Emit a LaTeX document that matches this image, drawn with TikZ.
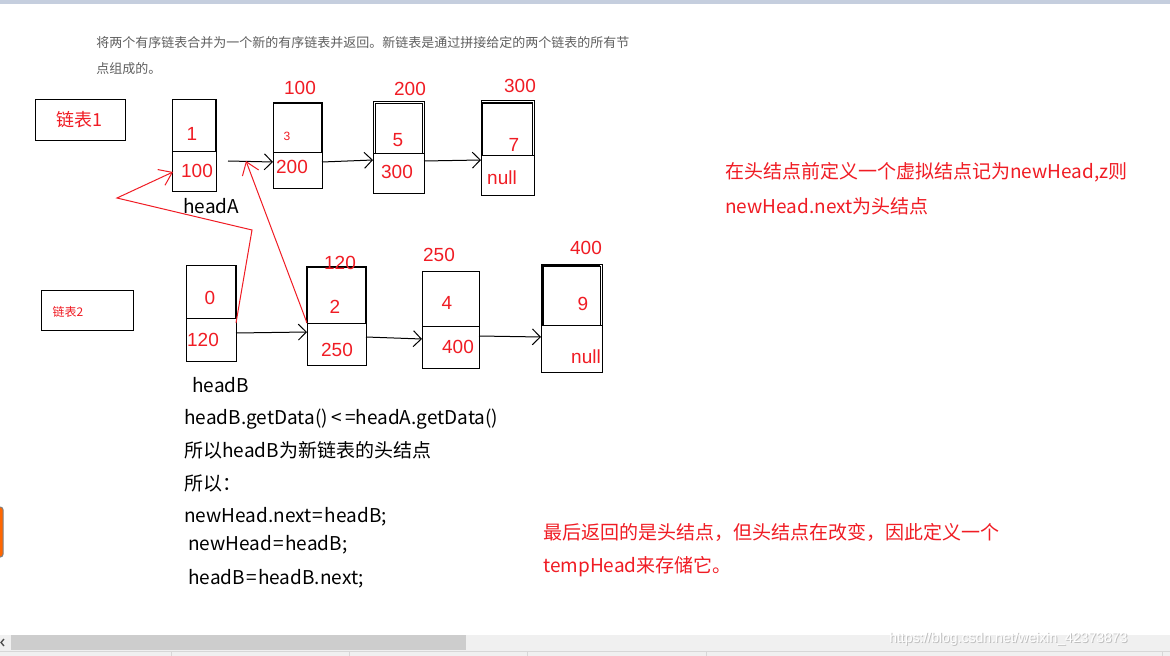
\documentclass[tikz,border=0pt]{standalone}
\usepackage{fontspec}
\setmainfont{Noto Sans CJK SC}
\newfontfamily\numfont{Liberation Sans}
\usetikzlibrary{arrows.meta,calc}
\definecolor{txtred}{RGB}{240,28,36}
\definecolor{linered}{RGB}{240,28,36}
\definecolor{descgray}{RGB}{95,95,95}
\definecolor{topbar}{RGB}{197,206,222}
\definecolor{sbbg}{RGB}{240,240,240}
\definecolor{sbthumb}{RGB}{205,205,205}
\definecolor{sbline}{RGB}{215,215,215}
\newcommand\cellnode[5]{\node[cellbox, minimum width=#4*0.75pt, minimum height=#5*0.75pt] (#1) at ({#2+#4/2},{#3+#5/2}) {};}
\tikzset{
 cellbox/.style={draw=black, line width=0.75pt, inner sep=0pt, outer sep=0pt},
 thickedge/.style={draw=black, line width=1.6pt},
 arr/.style={draw=black, line width=0.75pt, -{Straight Barb[length=6pt,width=12pt]}},
 redarr/.style={draw=linered, line width=0.75pt, -{Straight Barb[length=9pt,width=13pt]}},
 redline/.style={draw=linered, line width=0.75pt},
 num/.style={text=txtred, font=\numfont\fontsize{14.25}{16}\selectfont, inner sep=0pt},
 smallnum/.style={text=txtred, font=\numfont\fontsize{9}{10}\selectfont, inner sep=0pt},
 blk/.style={text=black, font=\fontsize{14.25}{16}\selectfont, inner sep=0pt, anchor=base west},
 rtxt/.style={text=txtred, font=\fontsize{14.25}{16}\selectfont, inner sep=0pt, anchor=base west},
 desc/.style={text=descgray, font=\fontsize{9.75}{11}\selectfont, inner sep=0pt, anchor=base west},
}
\begin{document}
\begin{tikzpicture}[x=0.75pt,y=-0.75pt]
\useasboundingbox[fill=white] (0,0) rectangle (1170,656);
% top bar
\fill[topbar] (0,0) rectangle (1170,4);
% description
\node[desc] (d1) at (96,48) {将两个有序链表合并为一个新的有序链表并返回。新链表是通过拼接给定的两个链表的所有节};
\node[desc] (d2) at (96,74) {点组成的。};
% list name boxes
\cellnode{list1}{35}{100}{90}{41}
\node[text=txtred, font=\fontsize{13.5}{15}\selectfont, inner sep=0pt] (list1t) at (79,120) {链表1};
\cellnode{list2}{41}{290}{92}{40}
\node[text=txtred, font=\fontsize{9}{10}\selectfont, inner sep=0pt] (list2t) at (68,312) {链表2};
% list A nodes
\cellnode{a1t}{172}{100}{44}{52}
\cellnode{a1b}{172}{152}{44}{39}
\draw[thickedge] (a1t.north east) -- (a1t.south east);
\cellnode{a2t}{273}{103}{49}{50}
\cellnode{a2b}{273}{153}{49}{35}
\draw[thickedge] (a2t.north west) -- (a2t.north east) -- (a2t.south east);
\cellnode{a3t}{373}{102}{51}{52}
\cellnode{a3b}{373}{154}{51}{39}
\cellnode{a3i}{375}{104}{47}{50}
\cellnode{a4t}{481}{101}{53}{55}
\cellnode{a4b}{481}{156}{53}{39}
\cellnode{a4i}{482}{103}{50}{53}
\draw[thickedge] (a4i.south west) -- (a4i.north west) -- (a4i.north east);
% list B nodes
\cellnode{b1t}{186}{265}{50}{53}
\cellnode{b1b}{186}{318}{50}{43}
\draw[thickedge] (b1t.north east) -- (b1t.south east);
\cellnode{b2t}{307}{267}{59}{56}
\cellnode{b2b}{307}{323}{59}{42}
\draw[thickedge] (b2t.south west) -- (b2t.north west) -- (b2t.north east) -- (b2t.south east);
\cellnode{b3t}{422}{271}{57}{55}
\cellnode{b3b}{422}{326}{57}{42}
\cellnode{b4t}{541}{264}{61}{61}
\cellnode{b4b}{541}{325}{61}{47}
\cellnode{b4i}{543}{266}{57}{59}
\draw[thickedge] (b4i.south west) -- (b4i.north west) -- (b4i.north east);
% numbers A
\node[num] (n1) at (192,134) {1};
\node[num] (n100a) at (197,171) {100};
\node[num] (l100) at (300,88) {100};
\node[smallnum] (n3) at (287,136) {3};
\node[num] (n200a) at (292,167) {200};
\node[num] (l200) at (410,89) {200};
\node[num] (n5) at (398,140) {5};
\node[num] (n300a) at (397,172) {300};
\node[num] (l300) at (520,86) {300};
\node[num] (n7) at (514,145) {7};
\node[num] (nnullA) at (502,178) {null};
\node[blk] (headA) at (183,213) {headA};
% numbers B
\node[num] (n0) at (210,298) {0};
\node[num] (n120b) at (203,340) {120};
\node[num] (l120) at (340,263) {120};
\node[num] (n2) at (335,307) {2};
\node[num] (n250b) at (337,350) {250};
\node[num] (l250) at (439,255) {250};
\node[num] (n4) at (447,303) {4};
\node[num] (n400b) at (458,347) {400};
\node[num] (l400) at (586,248) {400};
\node[num] (n9) at (583,304) {9};
\node[num] (nnullB) at (586,357) {null};
% black arrows
\draw[arr] ($(a1b.north east)+(12,9)$) -- ($(a2b.north west)+(0,9)$);
\draw[arr] ($(a2b.north east)+(0,9)$) -- ($(a3b.north west)+(0,6)$);
\draw[arr] ($(a3b.north east)+(0,7)$) -- ($(a4b.north west)+(0,4)$);
\draw[arr] ($(b1b.north east)+(0,15)$) -- ($(b2b.north west)+(0,9)$);
\draw[arr] ($(b2b.north east)+(0,14)$) -- ($(b3b.north west)+(0,13)$);
\draw[arr] ($(b3b.north east)+(0,10)$) -- ($(b4b.north west)+(0,12)$);
% red arrows
\coordinate (rbend1) at (252,230);
\coordinate (rbend2) at (117,198);
\coordinate (rend2) at (246,161);
\draw[redarr] ($(b1b.north east)+(0,5)$) -- (rbend1) -- (rbend2) -- ($(a1b.north west)+(1,20)$);
\draw[redarr] (b2t.south west) -- (rend2);
% code text
\node[blk] (hb) at (192,392) {headB};
\node[blk] (t1) at (184,424) {headB.getData()\hspace{2.5pt}<\hspace{2.5pt}=headA.getData()};
\node[blk] (t2) at (184,457) {所以headB为新链表的头结点};
\node[blk] (t3) at (184,490) {所以：};
\node[blk] (t4) at (184,522) {newHead.next\hspace{1pt}=\hspace{1pt}headB;};
\node[blk] (t5) at (188,550) {newHead\hspace{1pt}=\hspace{1pt}headB;};
\node[blk] (t6) at (188,584) {headB\hspace{1pt}=\hspace{1pt}headB.next;};
% red notes
\node[rtxt] (r1) at (725,179) {在头结点前定义一个虚拟结点记为newHead,z则};
\node[rtxt] (r2) at (725,214) {newHead.next为头结点};
\node[rtxt] (r3) at (543,539) {最后返回的是头结点，但头结点在改变，因此定义一个};
\node[rtxt] (r4) at (543,572) {tempHead来存储它。};
% left button
\draw[gray, line width=0.75pt, fill=orange!80!red, rounded corners=2pt] (-10,507) rectangle (3,557);
% scrollbar
\fill[sbbg] (0,635) rectangle (1170,656);
\fill[sbthumb] (11,635) rectangle (466,650);
\draw[sbline, line width=0.75pt] (0,651) -- (1170,651);
\foreach \tx in {171,349,527,706,1162} { \draw[sbline, line width=0.75pt] (\tx,652) -- (\tx,656); }
\draw[black!70, line width=1pt] (4,639) -- (1,642.5) -- (4,646);
% watermark
\node[text=black!25, font=\numfont\fontsize{10.5}{12}\selectfont, inner sep=0pt, anchor=base west] (wm2) at (890,643) {https://blog.csdn.net/weixin\_42373873};
\node[text=white, font=\numfont\fontsize{10.5}{12}\selectfont, inner sep=0pt, anchor=base west] (wm) at (889,642) {https://blog.csdn.net/weixin\_42373873};
\end{tikzpicture}
\end{document}
